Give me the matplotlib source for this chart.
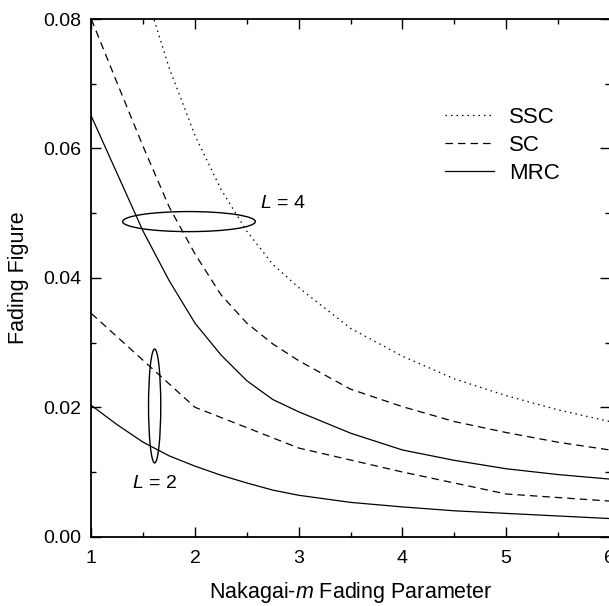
import matplotlib
matplotlib.use("Agg")
import matplotlib.pyplot as plt
from matplotlib.patches import Ellipse
from matplotlib.ticker import MultipleLocator, FormatStrFormatter

plt.rcParams['font.family'] = ['Liberation Sans', 'DejaVu Sans']
plt.rcParams['mathtext.fontset'] = 'custom'
plt.rcParams['mathtext.rm'] = 'Liberation Sans'
plt.rcParams['mathtext.it'] = 'Liberation Sans:italic'

# Nakagai-m values
m = [1, 1.25, 1.5, 1.75, 2, 2.25, 2.5, 2.75, 3, 3.5, 4, 4.5, 5, 5.5, 6]
m_int = [1, 2, 3, 4, 5, 6]

# L = 4 branch
ssc_L4 = [0.117, 0.099, 0.0853, 0.0725, 0.0620, 0.0537, 0.0472, 0.0421, 0.0385,
          0.0322, 0.0279, 0.0244, 0.0218, 0.0196, 0.0178]
sc_L4 = [0.0800, 0.0701, 0.0603, 0.0510, 0.0437, 0.0374, 0.0330, 0.0298, 0.0272,
         0.0228, 0.0201, 0.0178, 0.0161, 0.0146, 0.0134]
mrc_L4 = [0.0650, 0.0561, 0.0472, 0.0396, 0.0330, 0.0281, 0.0241, 0.0212, 0.0193,
          0.0160, 0.0134, 0.0118, 0.0105, 0.0096, 0.0089]

# L = 2 branch
sc_L2 = [0.0345, 0.0200, 0.0137, 0.0100, 0.0066, 0.0055]
mrc_L2 = [0.0203, 0.0173, 0.0146, 0.0125, 0.0109, 0.0095, 0.0083, 0.0072, 0.0064,
          0.0053, 0.0046, 0.0040, 0.0036, 0.0032, 0.0028]

DOT = (0, (1.2, 3.2))
DASH = (0, (6, 4))
lw = 0.9

fig = plt.figure(figsize=(6.09, 6.06), dpi=100)
ax = fig.add_axes([0.1499, 0.1144, 0.8514, 0.8541])

ax.plot(m, ssc_L4, color='black', lw=lw, linestyle=DOT, label='SSC')
ax.plot(m, sc_L4, color='black', lw=lw, linestyle=DASH, label='SC')
ax.plot(m, mrc_L4, color='black', lw=lw, linestyle='-', label='MRC')
ax.plot(m_int, sc_L2, color='black', lw=lw, linestyle=DASH)
ax.plot(m, mrc_L2, color='black', lw=lw, linestyle='-')

# group markers
ax.add_patch(Ellipse((1.942, 0.0487), 1.28, 0.0031, fill=False, edgecolor='black', lw=1.0))
ax.add_patch(Ellipse((1.611, 0.0202), 0.118, 0.0176, fill=False, edgecolor='black', lw=1.0))
ax.text(2.63, 0.0515, r'$L$ = 4', fontsize=14, ha='left', va='center')
ax.text(1.39, 0.0082, r'$L$ = 2', fontsize=14, ha='left', va='center')

ax.set_xlim(1, 6)
ax.set_ylim(0, 0.08)
ax.xaxis.set_major_locator(MultipleLocator(1))
ax.xaxis.set_minor_locator(MultipleLocator(0.5))
ax.yaxis.set_major_locator(MultipleLocator(0.02))
ax.yaxis.set_minor_locator(MultipleLocator(0.01))
ax.yaxis.set_major_formatter(FormatStrFormatter('%.2f'))
ax.tick_params(which='both', direction='in', top=True, right=True, width=1.0)
ax.tick_params(which='major', length=7, labelsize=14)
ax.tick_params(axis='x', which='major', pad=9.5)
ax.tick_params(axis='y', which='major', pad=7)
ax.tick_params(which='minor', length=3.8)
for s in ax.spines.values():
    s.set_linewidth(1.3)

ax.set_xlabel(r'Nakagai-$m$ Fading Parameter', fontsize=15.5, labelpad=9.5)
ax.set_ylabel('Fading Figure', fontsize=15.5, labelpad=10.5)

ax.legend(loc='upper left', bbox_to_anchor=(0.682, 0.830), frameon=False, fontsize=16,
          handlelength=2.2, handletextpad=0.7, labelspacing=0.31,
          borderpad=0, borderaxespad=0)

fig.savefig('out.png', dpi=100)
